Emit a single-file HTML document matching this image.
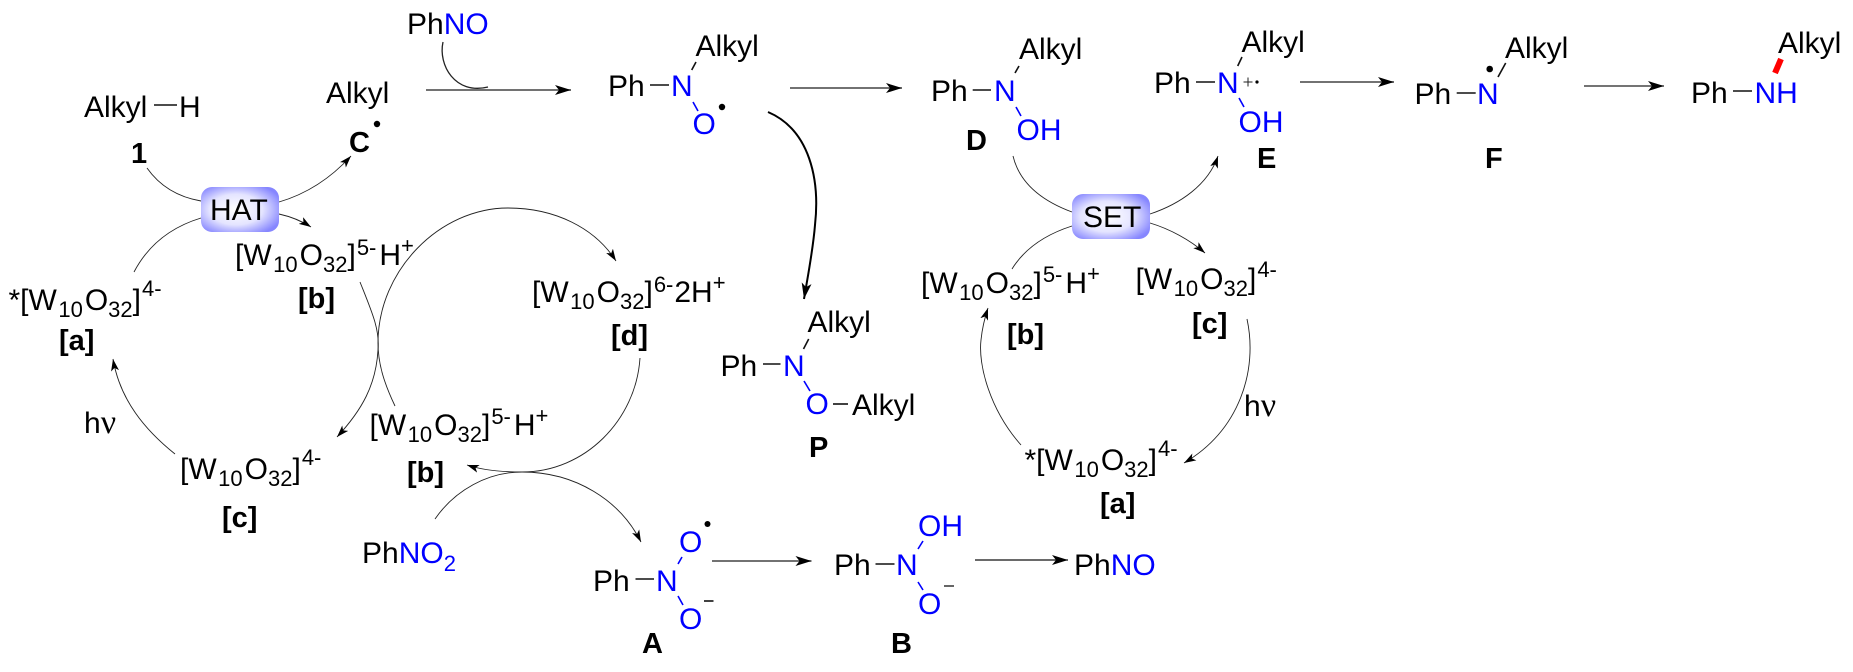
<!DOCTYPE html>
<html><head><meta charset="utf-8"><style>
html,body{margin:0;padding:0;background:#fff}
svg{display:block}
text{font-family:"Liberation Sans",sans-serif;font-size:30px;fill:#000}
.s{font-size:22px}
.b{font-weight:bold;font-size:29px}
.u{fill:#0000ff}
.serif{font-family:"Liberation Serif",serif;font-size:34px}
.bond{stroke:#111;stroke-width:1.6;fill:none}
.ub{stroke:#0000ff;stroke-width:1.6;fill:none}
.c{stroke:#222;stroke-width:.9;fill:none;marker-end:url(#sm)}
.n{stroke:#222;stroke-width:.9;fill:none}
.a{stroke:#444;stroke-width:1.5;fill:none;marker-end:url(#bg)}
</style></head><body>
<svg width="1853" height="672" viewBox="0 0 1853 672" xmlns="http://www.w3.org/2000/svg">
<defs>
<marker id="sm" markerUnits="userSpaceOnUse" markerWidth="14" markerHeight="12" refX="12" refY="4" orient="auto"><path d="M0 0L12 4L0 8L3 4z" fill="#000"/></marker>
<marker id="bg" markerUnits="userSpaceOnUse" markerWidth="18" markerHeight="12" refX="16" refY="5" orient="auto"><path d="M0 0L16 5L0 10L4 5z" fill="#000"/></marker>
<marker id="bd" markerUnits="userSpaceOnUse" markerWidth="18" markerHeight="12" refX="16" refY="5" orient="auto"><path d="M0 0L16 5L0 10L4 5z" fill="#000"/></marker>
<radialGradient id="g" cx=".45" cy=".5" r=".62"><stop offset="0" stop-color="#ffffff"/><stop offset=".55" stop-color="#e4e4ff"/><stop offset="1" stop-color="#8686ff"/></radialGradient>
</defs>

<!-- top-left -->
<text x="407" y="34">Ph<tspan class="u">NO</tspan></text>
<path class="n" style="stroke-width:1.3" d="M443 42C438 65 455 95 488 87"/>
<path class="a" d="M426 90L571 90"/>
<text x="84" y="117">Alkyl</text><path class="bond" d="M154 105L177 105"/><text x="179" y="117">H</text>
<text class="b" x="131" y="163">1</text>
<text x="326" y="103">Alkyl</text>
<text class="b" x="349" y="152">C</text><circle cx="377" cy="124" r="3.2"/>
<path class="n" d="M147 168Q166 195 201 201"/>
<path class="c" d="M279 202Q320 190 351 156"/>
<path class="c" d="M279 214Q297 218 311 227"/>
<path class="n" d="M134 272Q155 232 201 218"/>
<rect x="201" y="187" width="78" height="45" rx="11" fill="url(#g)"/>
<text x="210" y="220">HAT</text>

<!-- left cycle -->
<text x="8.5" y="310">*[W<tspan class="s" dx="1.5" dy="7">10</tspan><tspan dx="2" dy="-7">O</tspan><tspan class="s" dy="7">32</tspan><tspan dy="-7">]</tspan><tspan class="s" dx="1" dy="-14">4-</tspan></text>
<text class="b" x="59" y="350">[a]</text>
<text x="235" y="265">[W<tspan class="s" dx="1.5" dy="7">10</tspan><tspan dx="2" dy="-7">O</tspan><tspan class="s" dy="7">32</tspan><tspan dy="-7">]</tspan><tspan class="s" dx="1" dy="-10">5-</tspan><tspan dx="3" dy="10">H</tspan><tspan class="s" dy="-12">+</tspan></text>
<text class="b" x="298" y="308">[b]</text>
<text x="532" y="302">[W<tspan class="s" dx="1.5" dy="7">10</tspan><tspan dx="2" dy="-7">O</tspan><tspan class="s" dy="7">32</tspan><tspan dy="-7">]</tspan><tspan class="s" dx="1" dy="-10">6-</tspan><tspan dx="1" dy="10">2H</tspan><tspan class="s" dy="-12">+</tspan></text>
<text class="b" x="611" y="345">[d]</text>
<text x="369.5" y="435">[W<tspan class="s" dx="1.5" dy="7">10</tspan><tspan dx="2" dy="-7">O</tspan><tspan class="s" dy="7">32</tspan><tspan dy="-7">]</tspan><tspan class="s" dx="1" dy="-11">5-</tspan><tspan dx="3" dy="11">H</tspan><tspan class="s" dy="-12">+</tspan></text>
<text class="b" x="407" y="482">[b]</text>
<text x="180" y="479">[W<tspan class="s" dx="1.5" dy="7">10</tspan><tspan dx="2" dy="-7">O</tspan><tspan class="s" dy="7">32</tspan><tspan dy="-7">]</tspan><tspan class="s" dx="1" dy="-14">4-</tspan></text>
<text class="b" x="222" y="527">[c]</text>
<text x="84" y="433">h<tspan class="serif">ν</tspan></text>
<path class="c" d="M175 454C145 430 120 400 113 359"/>
<path class="c" d="M360 282C372 312 380 330 378 350C376 385 362 410 337 437"/>
<path class="c" d="M395 406C385 385 378 365 378 343C378 270 440 208 508 208C555 208 595 228 616 261"/>
<path class="c" d="M640 358C636 420 585 472 522 472C505 472 485 471 467 465"/>
<path class="c" d="M435 519C455 490 488 472 522 472C575 472 620 500 641 542"/>
<text x="362" y="563">Ph<tspan class="u">NO</tspan><tspan class="u s" dy="8">2</tspan></text>

<!-- A -->
<text x="593" y="591">Ph</text><path class="bond" d="M635.5 579L654 579"/>
<text class="u" x="656" y="591">N</text>
<path class="ub" d="M678 564L682 557M678 596L683 605"/>
<text class="u" x="679" y="552">O</text><circle cx="707.5" cy="524" r="3"/>
<text class="u" x="679" y="629">O</text><path class="bond" d="M704 601L713.5 601"/>
<text class="b" x="642" y="653">A</text>
<path class="a" d="M712 561L811.5 561"/>

<!-- B -->
<text x="834" y="575">Ph</text><path class="bond" d="M875.5 564L894.5 564"/>
<text class="u" x="896" y="575">N</text>
<path class="ub" d="M918 549L923 541M918 582L923 590"/>
<text class="u" x="918" y="536">OH</text>
<text class="u" x="918" y="614">O</text><path d="M944 586L954 586" stroke="#666" stroke-width="2"/>
<text class="b" x="891" y="653">B</text>
<path class="a" style="stroke:#111;stroke-width:1.2" d="M975 560L1068 560"/>
<text x="1074" y="575">Ph<tspan class="u">NO</tspan></text>

<!-- P -->
<text x="807.5" y="332">Alkyl</text><path class="bond" d="M803.5 349L808.7 339"/>
<text x="720.5" y="376">Ph</text><path class="bond" d="M763 364L780.5 364"/>
<text class="u" x="783" y="376">N</text>
<path class="ub" d="M804 381L810 391"/>
<text class="u" x="805.5" y="414">O</text><path class="bond" d="M833 404L848 404"/>
<text x="852" y="415">Alkyl</text>
<text class="b" x="809" y="457">P</text>

<!-- radical -->
<text x="608" y="96">Ph</text><path class="bond" d="M650 85L669 85"/>
<text class="u" x="671" y="96">N</text>
<text x="695.5" y="56">Alkyl</text><path class="bond" d="M691.7 70L696 62"/>
<path class="ub" d="M693 102L698 111"/>
<text class="u" x="692.5" y="134">O</text><circle cx="722" cy="107" r="3.2"/>
<path class="a" d="M790 88L902 88"/>
<path d="M768 112C810 130 820 180 815 225C813 250 808 275 804 299" fill="none" stroke="#000" stroke-width="2" marker-end="url(#bd)"/>

<!-- D -->
<text x="931" y="101">Ph</text><path class="bond" d="M972.7 90L991 90"/>
<text class="u" x="994" y="101">N</text>
<text x="1019" y="59">Alkyl</text><path class="bond" d="M1015 73L1019 66"/>
<path class="ub" d="M1016 107L1021 116"/>
<text class="u" x="1016.5" y="140">OH</text>
<text class="b" x="966" y="150">D</text>

<!-- SET -->
<path class="n" d="M1013 156C1020 185 1045 202 1072 212"/>
<path class="c" d="M1150 214C1180 204 1208 185 1218 156"/>
<path class="c" d="M1150 223C1170 229 1190 240 1205 253"/>
<path class="n" d="M1012 269C1025 248 1047 234 1072 226"/>
<rect x="1072" y="194" width="78" height="45" rx="11" fill="url(#g)"/>
<text x="1083" y="227">SET</text>

<!-- right cycle -->
<text x="921" y="293">[W<tspan class="s" dx="1.5" dy="7">10</tspan><tspan dx="2" dy="-7">O</tspan><tspan class="s" dy="7">32</tspan><tspan dy="-7">]</tspan><tspan class="s" dx="1" dy="-11">5-</tspan><tspan dx="3" dy="11">H</tspan><tspan class="s" dy="-12">+</tspan></text>
<text class="b" x="1007" y="344">[b]</text>
<text x="1135.5" y="289">[W<tspan class="s" dx="1.5" dy="7">10</tspan><tspan dx="2" dy="-7">O</tspan><tspan class="s" dy="7">32</tspan><tspan dy="-7">]</tspan><tspan class="s" dx="1" dy="-12">4-</tspan></text>
<text class="b" x="1192" y="333">[c]</text>
<text x="1024.5" y="470">*[W<tspan class="s" dx="1.5" dy="7">10</tspan><tspan dx="2" dy="-7">O</tspan><tspan class="s" dy="7">32</tspan><tspan dy="-7">]</tspan><tspan class="s" dx="1" dy="-14">4-</tspan></text>
<text class="b" x="1100" y="513">[a]</text>
<text x="1244" y="416">h<tspan class="serif">ν</tspan></text>
<path class="c" d="M1021 445C990 410 978 365 981 340C982 330 984 320 988 308"/>
<path class="c" d="M1247 319C1258 370 1240 430 1184 463"/>

<!-- E -->
<text x="1154" y="93">Ph</text><path class="bond" d="M1196 82L1215 82"/>
<text class="u" x="1217" y="93">N</text>
<text x="1241.5" y="52">Alkyl</text><path class="bond" d="M1237.7 66L1242 57"/>
<path class="ub" d="M1239 98L1244 107"/>
<path d="M1243.5 82L1252.5 82M1248 77.5L1248 86.5" stroke="#222" stroke-width="1"/><circle cx="1257" cy="82" r="1.6"/>
<text class="u" x="1238.5" y="132">OH</text>
<text class="b" x="1257" y="168">E</text>
<path class="a" d="M1300 82L1394 82"/>

<!-- F -->
<text x="1414.5" y="104">Ph</text><path class="bond" d="M1456.7 93L1475.7 93"/>
<text class="u" x="1477" y="104">N</text><circle cx="1489.7" cy="69" r="3.3"/>
<path class="bond" d="M1498 77L1505.7 63"/>
<text x="1505" y="58">Alkyl</text>
<text class="b" x="1485" y="168">F</text>
<path class="a" style="stroke:#222;stroke-width:1.2" d="M1584 86L1664 86"/>

<!-- product -->
<text x="1691" y="103">Ph</text><path class="bond" d="M1733 91L1752 91"/>
<text class="u" x="1754.5" y="103">NH</text>
<path d="M1775 73L1781 59" stroke="#ff0000" stroke-width="6"/>
<text x="1778" y="53">Alkyl</text>
</svg>
</body></html>
